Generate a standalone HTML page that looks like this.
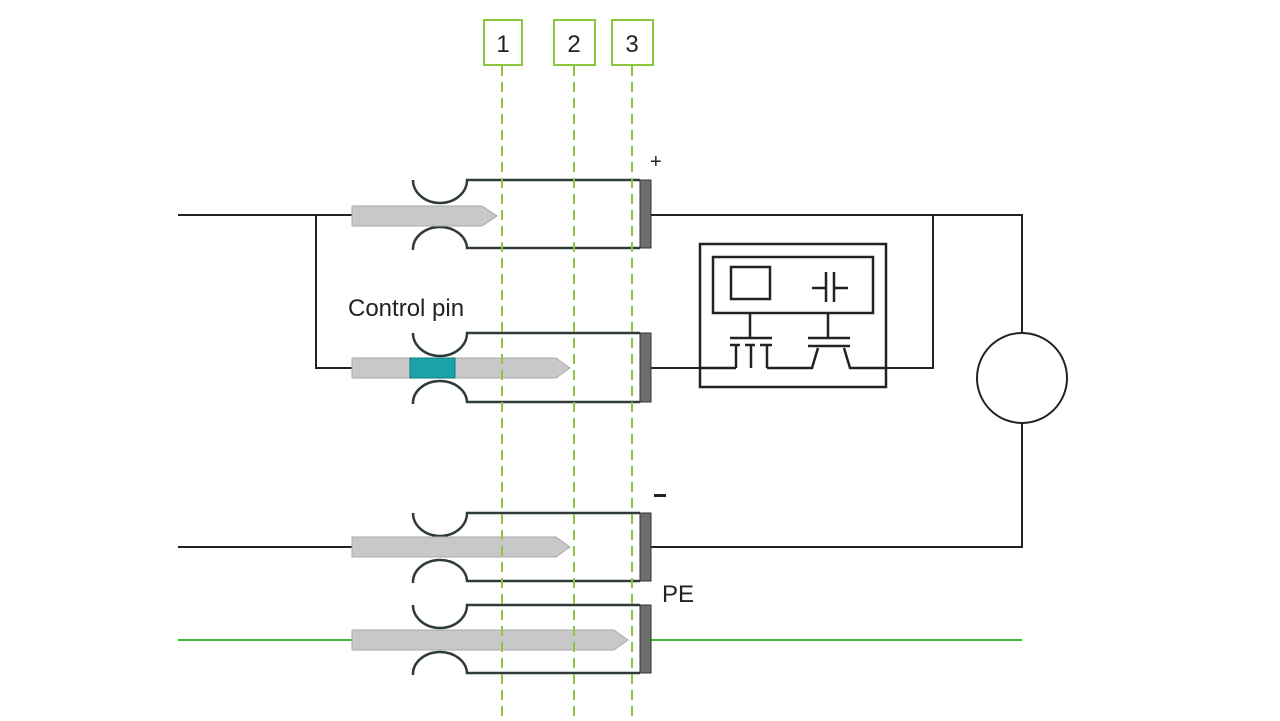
<!DOCTYPE html>
<html><head><style>html,body{margin:0;padding:0;background:#fff;}svg{display:block}</style></head>
<body>
<svg width="1280" height="721" viewBox="0 0 1280 721" xmlns="http://www.w3.org/2000/svg" font-family="Liberation Sans, DejaVu Sans, sans-serif">
<rect width="1280" height="721" fill="#fff"/>
<!-- number boxes -->
<g fill="#fff" stroke="#8cc63f" stroke-width="2">
<rect x="484" y="20" width="38" height="45"/>
<rect x="554" y="20" width="41" height="45"/>
<rect x="612" y="20" width="41" height="45"/>
</g>
<g font-size="24" fill="#222" text-anchor="middle">
<text x="503" y="52">1</text><text x="574" y="52">2</text><text x="632" y="52">3</text>
</g>
<!-- left wiring -->
<g stroke="#222" stroke-width="2" fill="none">
<path d="M178 215H352M316 215V368H352M178 547H352"/>
<path d="M651 215H1022V547H651M933 215V368H886M651 368H700"/>
<circle cx="1022" cy="378" r="45" fill="#fff"/>
</g>
<path d="M178 640H352M651 640H1022" stroke="#3cb83c" stroke-width="2"/>
<!-- connectors -->
<g id="c">
</g>
<g stroke="#2e3b38" stroke-width="2.5" fill="none">
<path d="M413 180A27 23 0 0 0 467 180H640M413 250A27 22 0 0 1 467 248H640"/>
<path d="M413 333A27 23 0 0 0 467 333H640M413 404A27 22 0 0 1 467 402H640"/>
<path d="M413 513A27 23 0 0 0 467 513H640M413 583A27 22 0 0 1 467 581H640"/>
<path d="M413 605A27 23 0 0 0 467 605H640M413 675A27 22 0 0 1 467 673H640"/>
</g>
<g fill="#6e6e6e" stroke="#333" stroke-width="1">
<rect x="640" y="180" width="11" height="68"/>
<rect x="640" y="333" width="11" height="69"/>
<rect x="640" y="513" width="11" height="68"/>
<rect x="640" y="605" width="11" height="68"/>
</g>
<g fill="#c8c8c8" stroke="#aaa" stroke-width="1">
<path d="M352 206H482L497 216L482 226H352Z"/>
<path d="M352 358H556L570 368L556 378H352Z"/>
<path d="M352 537H556L570 547L556 557H352Z"/>
<path d="M352 630H614L628 640L614 650H352Z"/>
</g>
<rect x="410" y="358" width="45" height="20" fill="#1aa3a8" stroke="#0c7c80"/>
<!-- dashed lines -->
<g stroke="#8cc63f" stroke-width="2" stroke-dasharray="10 6">
<path d="M502 66V721M574 66V721M632 66V721"/>
</g>
<!-- module box -->
<g stroke="#222" stroke-width="2.5" fill="none">
<rect x="700" y="244" width="186" height="143" fill="#fff"/>
<rect x="713" y="257" width="160" height="56"/>
<rect x="731" y="267" width="39" height="32"/>
<path d="M812 288H826M826 272V302M834 272V302M834 288H848"/>
<path d="M750 313V337M730 338H772M828 313V337M808 338H850"/>
<path d="M730 345H740M745 345H755M760 345H772M808 346H850"/>
<path d="M736 345V368M751 345V368M767 345V368"/>
<path d="M700 368H736M767 368H812L818 348M844 348L850 368H886"/>
</g>
<g font-size="24" fill="#222">
<text x="348" y="316">Control pin</text>
<text x="662" y="602">PE</text>
<text x="650" y="168" font-size="20">+</text>
</g>
<rect x="654" y="494" width="12" height="3" fill="#222"/>
</svg>
</body></html>
